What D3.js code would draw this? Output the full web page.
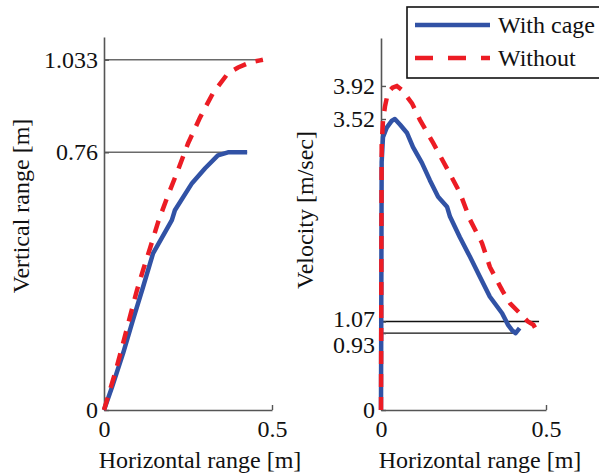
<!DOCTYPE html>
<html>
<head>
<meta charset="utf-8">
<script src="https://cdn.jsdelivr.net/npm/d3@7"></script>
<style>
  body { margin: 0; background: #fff; }
</style>
</head>
<body>
<div id="chart"></div>
<script>
// left panel: trajectory (horizontal vs vertical range)
var leftCageX = [0, 0.024, 0.057, 0.086, 0.116, 0.146, 0.202, 0.211, 0.262, 0.301, 0.339, 0.369, 0.426];
var leftCageY = [0, 0.068, 0.168, 0.265, 0.362, 0.462, 0.560, 0.589, 0.669, 0.713, 0.751, 0.760, 0.760];
var leftFreeX = [0, 0.033, 0.054, 0.077, 0.098, 0.116, 0.137, 0.161, 0.188, 0.220, 0.250, 0.286, 0.324, 0.369, 0.399, 0.435, 0.464, 0.473];
var leftFreeY = [0, 0.109, 0.186, 0.274, 0.353, 0.412, 0.477, 0.554, 0.627, 0.707, 0.786, 0.863, 0.934, 0.993, 1.010, 1.025, 1.031, 1.033];

// right panel: velocity vs horizontal range
var rightCageX = [0, 0.002, 0.006, 0.018, 0.033, 0.042, 0.058, 0.079, 0.097, 0.124, 0.148, 0.173, 0.200, 0.209, 0.239, 0.270, 0.300, 0.330, 0.367, 0.385, 0.398, 0.408, 0.420];
var rightCageY = [0, 3.00, 3.30, 3.42, 3.50, 3.52, 3.45, 3.35, 3.18, 2.99, 2.78, 2.58, 2.46, 2.34, 2.09, 1.85, 1.61, 1.37, 1.17, 1.03, 0.96, 0.93, 0.99];
var rightFreeX = [0, 0.002, 0.006, 0.012, 0.021, 0.035, 0.048, 0.064, 0.094, 0.118, 0.158, 0.203, 0.239, 0.270, 0.306, 0.330, 0.367, 0.391, 0.421, 0.445, 0.462, 0.473];
var rightFreeY = [0, 3.20, 3.50, 3.67, 3.84, 3.90, 3.92, 3.87, 3.71, 3.51, 3.23, 2.90, 2.63, 2.30, 2.02, 1.73, 1.45, 1.29, 1.17, 1.07, 1.03, 0.95];

var xTicks = [0, 0.5];
var leftTicks = [0, 0.76, 1.033];
var rightTicks = [0, 0.93, 1.07, 3.52, 3.92];
var leftRefY = [1.033, 0.76];
var leftRefEnd = [0.473, 0.426];
var rightRefY = [1.07, 0.93];
var rightRefEnd = [0.479, 0.40];
var legendNames = ["With cage", "Without"];

var blue = "#3152a5", red = "#ec1c24", axisCol = "#555";
var FONT = "Liberation Serif";

var svg = d3.select("#chart").append("svg")
    .attr("width", 599)
    .attr("height", 475);

function zip(xs, ys) {
    return xs.map(function (x, i) { return [x, ys[i]]; });
}

function label(sel) {
    return sel.style("font-family", FONT).style("font-size", "24px").attr("fill", "#111");
}

function panel(opt) {
    var x = d3.scaleLinear().domain([0, 0.5]).range(opt.xr);
    var y = d3.scaleLinear().domain(opt.yd).range([410, opt.top]);
    var g = svg.append("g");

    // reference lines
    opt.refY.forEach(function (v, i) {
        g.append("line")
            .attr("x1", x(0)).attr("x2", x(opt.refEnd[i]))
            .attr("y1", y(v)).attr("y2", y(v))
            .attr("stroke", opt.refCol).attr("stroke-width", 1.4);
    });

    var xa = g.append("g")
        .attr("transform", "translate(0,410)")
        .call(d3.axisBottom(x).tickValues(xTicks).tickFormat(d3.format("")).tickSize(-5).tickSizeOuter(0).tickPadding(10));
    var ya = g.append("g")
        .attr("transform", "translate(" + x(0) + ",0)")
        .call(d3.axisLeft(y).tickValues(opt.ticks).tickFormat(function (d) { return opt.fmt[opt.ticks.indexOf(d)]; }).tickSize(-5).tickSizeOuter(0).tickPadding(6));
    [xa, ya].forEach(function (a) {
        a.attr("font-family", null).attr("font-size", null);
        a.select(".domain").attr("stroke", axisCol).attr("stroke-width", 1.6);
        a.selectAll(".tick line").attr("stroke", axisCol).attr("stroke-width", 1.4);
        label(a.selectAll("text"));
    });
    if (opt.nudge) {
        ya.selectAll(".tick text").attr("dy", function (d) {
            return (0.32 * 24 + (opt.nudge[d] || 0)) + "px";
        });
    }

    var line = d3.line().x(function (d) { return x(d[0]); }).y(function (d) { return y(d[1]); });
    g.append("path").datum(zip(opt.cx, opt.cy))
        .attr("d", line).attr("fill", "none")
        .attr("stroke", blue).attr("stroke-width", 4.5).attr("stroke-linejoin", "round");
    g.append("path").datum(zip(opt.fx, opt.fy))
        .attr("d", line).attr("fill", "none")
        .attr("stroke", red).attr("stroke-width", 4.5).attr("stroke-dasharray", "13,10");

    label(g.append("text"))
        .attr("x", opt.xlabX).attr("y", 468)
        .attr("text-anchor", "middle")
        .text("Horizontal range [m]");
    label(g.append("text"))
        .attr("transform", "translate(" + opt.ylabX + "," + opt.ylabY + ") rotate(-90)")
        .attr("text-anchor", "middle")
        .text(opt.ylab);
}

panel({
    xr: [104, 272], yd: [0, 1.1], top: 37,
    ticks: leftTicks, fmt: ["0", "0.76", "1.033"],
    refY: leftRefY, refEnd: leftRefEnd, refCol: "#6a6a6a",
    cx: leftCageX, cy: leftCageY, fx: leftFreeX, fy: leftFreeY,
    xlabX: 200, ylabX: 29, ylabY: 206, ylab: "Vertical range [m]"
});

panel({
    xr: [381, 546], yd: [0, 4.5], top: 38,
    ticks: rightTicks, fmt: ["0", "0.93", "1.07", "3.52", "3.92"],
    nudge: { 1.07: -3, 0.93: 12 },
    refY: rightRefY, refEnd: rightRefEnd, refCol: "#111",
    cx: rightCageX, cy: rightCageY, fx: rightFreeX, fy: rightFreeY,
    xlabX: 480, ylabX: 313, ylabY: 210, ylab: "Velocity [m/sec]"
});

// legend
var lg = svg.append("g");
lg.append("rect")
    .attr("x", 407).attr("y", 7).attr("width", 220).attr("height", 71)
    .attr("fill", "#fff").attr("stroke", "#111").attr("stroke-width", 1.6);
[blue, red].forEach(function (c, i) {
    var yy = 25 + i * 33;
    lg.append("line")
        .attr("x1", 415).attr("x2", 490).attr("y1", yy).attr("y2", yy)
        .attr("stroke", c).attr("stroke-width", 4.5)
        .attr("stroke-dasharray", i === 1 ? "18,15" : null);
    label(lg.append("text"))
        .attr("x", 498).attr("y", yy + 8)
        .text(legendNames[i]);
});
</script>
</body>
</html>
